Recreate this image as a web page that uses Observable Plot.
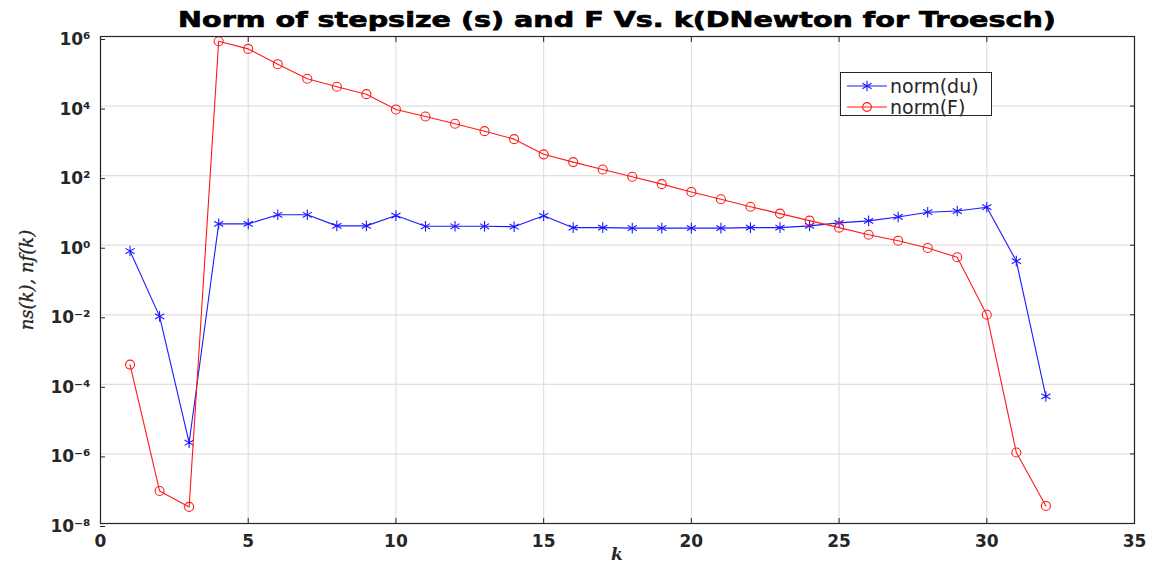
<!DOCTYPE html>
<html>
<head>
<meta charset="utf-8">
<script src="https://cdn.jsdelivr.net/npm/d3@7"></script>
<script src="https://cdn.jsdelivr.net/npm/@observablehq/plot@0.6"></script>
<style>
  body { margin: 0; background: #fff; }
  #wrap { position: relative; width: 1152px; height: 567px; overflow: hidden; }
  #title { position: absolute; left: 617px; top: 7px; transform: translateX(-50%) scaleX(1.3);
           font-family: "DejaVu Sans"; font-weight: bold; font-size: 22px; color: #000; white-space: nowrap;
           -webkit-text-stroke: 0.7px #000; }
  #ylabel { position: absolute; left: 26px; top: 280px; transform: translate(-50%, -50%) rotate(-90deg);
            font-family: "DejaVu Serif"; font-style: italic; font-size: 18px; color: #262626; white-space: nowrap;
            -webkit-text-stroke: 0.3px #262626; }
  #xlabel { position: absolute; left: 617px; top: 544px; transform: translateX(-50%);
            font-family: "DejaVu Serif"; font-style: italic; font-weight: bold; font-size: 17px; color: #262626; }
  #legend { position: absolute; left: 840px; top: 72px; width: 150px; height: 42px; background: #fff;
            border: 1px solid #262626; font-family: "DejaVu Sans"; font-size: 19px; color: #262626; }
  .row { position: absolute; left: 6px; height: 20px; display: flex; align-items: center; }
  .row svg { margin-right: 3px; }
  svg text { -webkit-text-stroke: 0.4px #262626; }
</style>
</head>
<body>
<div id="wrap">
  <div id="title"></div>
  <div id="ylabel"></div>
  <div id="xlabel"></div>
  <div id="legend"></div>
</div>
<script>
const titleText = "Norm of stepsize (s) and F Vs. k(DNewton for Troesch)";
const yLabelText = "ns(k), nf(k)";
const xLabelText = "k";

const k = [1,2,3,4,5,6,7,8,9,10,11,12,13,14,15,16,17,18,19,20,21,22,23,24,25,26,27,28,29,30,31,32];
const normDu = [0.68, 0.009, 2.1e-6, 4.1, 4.1, 7.5, 7.5, 3.6, 3.6, 7.1, 3.5, 3.5, 3.5, 3.4, 7.0, 3.2,
                3.2, 3.1, 3.1, 3.1, 3.1, 3.2, 3.2, 3.6, 4.4, 5.0, 6.5, 8.9, 9.6, 12.4, 0.35, 4.5e-5];
const normF = [3.7e-4, 8.6e-8, 3.0e-8, 7.3e5, 4.4e5, 1.6e5, 6.1e4, 3.6e4, 2.2e4, 8.0e3, 5.0e3, 3.1e3,
               1.9e3, 1.12e3, 410, 245, 150, 93, 57, 34, 21, 12.8, 8.1, 5.1, 3.2, 2.0, 1.35, 0.83,
               0.45, 0.01, 1.1e-6, 3.2e-8];

const seriesNames = ["norm(du)", "norm(F)"];
const seriesColors = ["#1a1aff", "#ff1a1a"];
const seriesSymbols = ["asterisk", "circle"];

const xTicks = [0, 5, 10, 15, 20, 25, 30, 35];
const yTicks = [1e-8, 1e-6, 1e-4, 1e-2, 1e0, 1e2, 1e4, 1e6];
const yTickLabels = ["10⁻⁸", "10⁻⁶", "10⁻⁴", "10⁻²", "10⁰", "10²", "10⁴", "10⁶"];

const duData = k.map((kk, i) => ({k: kk, v: normDu[i]}));
const fData = k.map((kk, i) => ({k: kk, v: normF[i]}));

const gridColor = "#e0e0e0";
const axisColor = "#262626";

const chart = Plot.plot({
  width: 1152,
  height: 567,
  marginLeft: 100,
  marginRight: 18,
  marginTop: 36,
  marginBottom: 44,
  style: {fontFamily: "DejaVu Sans", fontSize: "17px", fontWeight: "bold", color: axisColor, background: "transparent"},
  x: {domain: [0, 35]},
  y: {type: "log", domain: [1e-8, 1e6]},
  marks: [
    Plot.gridX(xTicks, {stroke: gridColor, strokeOpacity: 1, strokeWidth: 1.2}),
    Plot.gridY(yTicks, {stroke: gridColor, strokeOpacity: 1, strokeWidth: 1.2}),
    Plot.line(duData, {x: "k", y: "v", stroke: seriesColors[0], strokeWidth: 1.1}),
    Plot.dot(duData, {x: "k", y: "v", symbol: seriesSymbols[0], r: 5, stroke: seriesColors[0], strokeWidth: 1.1}),
    Plot.line(fData, {x: "k", y: "v", stroke: seriesColors[1], strokeWidth: 1.1}),
    Plot.dot(fData, {x: "k", y: "v", symbol: seriesSymbols[1], r: 4.5, fill: "none", stroke: seriesColors[1], strokeWidth: 1.1}),
    Plot.frame({stroke: axisColor, strokeWidth: 1.2}),
    Plot.axisX(xTicks, {anchor: "bottom", tickSize: -5, tickPadding: 16, label: null, stroke: axisColor}),
    Plot.axisX(xTicks, {anchor: "top", tickSize: -5, tickFormat: () => "", label: null, stroke: axisColor}),
    Plot.axisY(yTicks, {anchor: "left", tickSize: -5, tickPadding: 15, dy: 3, label: null, stroke: axisColor,
                        tickFormat: d => yTickLabels[yTicks.indexOf(d)]}),
    Plot.axisY(yTicks, {anchor: "right", tickSize: -5, tickFormat: () => "", label: null, stroke: axisColor})
  ]
});

const wrap = document.getElementById("wrap");
wrap.insertBefore(chart, wrap.firstChild);
chart.style.position = "absolute";
chart.style.left = "0px";
chart.style.top = "0px";

document.getElementById("title").textContent = titleText;
document.getElementById("ylabel").textContent = yLabelText;
document.getElementById("xlabel").textContent = xLabelText;

const legend = d3.select("#legend");
seriesNames.forEach((name, i) => {
  const row = legend.append("div").attr("class", "row").style("top", (3 + i * 21) + "px");
  const svg = row.append("svg").attr("width", 40).attr("height", 20);
  svg.append("line").attr("x1", 0).attr("x2", 40).attr("y1", 10).attr("y2", 10)
     .attr("stroke", seriesColors[i]).attr("stroke-width", 1.1);
  const sym = seriesSymbols[i] === "asterisk" ? d3.symbolAsterisk : d3.symbolCircle;
  svg.append("path").attr("transform", "translate(20,10)")
     .attr("d", d3.symbol(sym, seriesSymbols[i] === "asterisk" ? 80 : 60)())
     .attr("fill", "none").attr("stroke", seriesColors[i]).attr("stroke-width", 1.1);
  row.append("span").text(name);
});
</script>
</body>
</html>
